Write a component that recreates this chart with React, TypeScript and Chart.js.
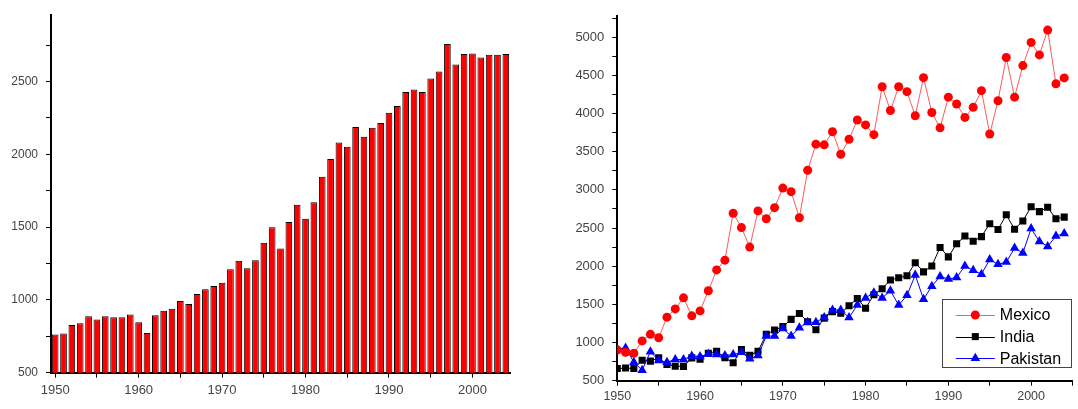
import React, { useEffect, useRef } from 'react';
import { Chart, registerables } from 'chart.js';

Chart.register(...registerables);

const years = [
  1950, 1951, 1952, 1953, 1954, 1955, 1956, 1957, 1958, 1959,
  1960, 1961, 1962, 1963, 1964, 1965, 1966, 1967, 1968, 1969,
  1970, 1971, 1972, 1973, 1974, 1975, 1976, 1977, 1978, 1979,
  1980, 1981, 1982, 1983, 1984, 1985, 1986, 1987, 1988, 1989,
  1990, 1991, 1992, 1993, 1994, 1995, 1996, 1997, 1998, 1999,
  2000, 2001, 2002, 2003, 2004,
];

const barValues = [
  762, 769, 827, 840, 887, 865, 887, 881, 881, 899,
  847, 773, 894, 925, 939, 993, 972, 1040, 1073, 1096,
  1118, 1210, 1268, 1217, 1272, 1393, 1499, 1353, 1535, 1653,
  1557, 1671, 1846, 1967, 2081, 2052, 2188, 2121, 2182, 2215,
  2285, 2332, 2428, 2444, 2428, 2520, 2569, 2757, 2616, 2688,
  2692, 2665, 2683, 2683, 2688,
];

const mexico = [
  902, 872, 859, 1021, 1107, 1063, 1332, 1440, 1585, 1350,
  1414, 1678, 1951, 2079, 2694, 2506, 2250, 2724, 2621, 2767,
  3023, 2976, 2634, 3257, 3599, 3590, 3761, 3467, 3663, 3915,
  3851, 3723, 4350, 4039, 4350, 4286, 3970, 4470, 4013, 3812,
  4214, 4124, 3949, 4081, 4299, 3731, 4167, 4734, 4214, 4628,
  4931, 4768, 5093, 4389, 4466,
];

const india = [
  659, 666, 659, 767, 756, 800, 712, 690, 688, 799,
  780, 859, 885, 800, 735, 908, 833, 885, 1107, 1164,
  1208, 1303, 1380, 1272, 1168, 1320, 1405, 1384, 1482, 1576,
  1448, 1627, 1704, 1819, 1849, 1874, 2045, 1926, 2003, 2246,
  2122, 2293, 2395, 2327, 2387, 2557, 2481, 2673, 2485, 2592,
  2779, 2715, 2771, 2621, 2643,
];

const pakistan = [
  915, 928, 743, 637, 880, 765, 743, 778, 778, 825,
  816, 851, 842, 829, 842, 872, 787, 829, 1085, 1085,
  1184, 1085, 1192, 1265, 1265, 1329, 1426, 1426, 1328, 1490,
  1584, 1653, 1584, 1678, 1490, 1618, 1883, 1567, 1738, 1866,
  1832, 1853, 2003, 1947, 1896, 2088, 2024, 2054, 2237, 2173,
  2493, 2323, 2259, 2395, 2429,
];

const seriesNames = ['Mexico', 'India', 'Pakistan'];
const xTickValues = [1950, 1955, 1960, 1965, 1970, 1975, 1980, 1985, 1990, 1995, 2000, 2005];

const FONT = "'Liberation Sans', Arial, Helvetica, sans-serif";
const LABEL_COLOR = '#444444';

function minorTicks(min: number, max: number, step: number) {
  const out: { value: number }[] = [];
  for (let v = Math.ceil(min / step) * step; v <= max + 1e-9; v += step) out.push({ value: v });
  return out;
}

function drawMarker(ctx: CanvasRenderingContext2D, style: string, x: number, y: number, r: number) {
  ctx.beginPath();
  if (style === 'circle') {
    ctx.arc(x, y, r, 0, Math.PI * 2);
  } else if (style === 'rect') {
    const s = Math.SQRT1_2 * r;
    ctx.rect(x - s, y - s, 2 * s, 2 * s);
  } else {
    ctx.moveTo(x, y - r);
    ctx.lineTo(x + r * Math.sin(Math.PI * 2 / 3), y + r * 0.5);
    ctx.lineTo(x - r * Math.sin(Math.PI * 2 / 3), y + r * 0.5);
    ctx.closePath();
  }
  ctx.fill();
}

const legendPlugin = {
  id: 'boxLegend',
  afterDraw(chart: any) {
    const { ctx, chartArea } = chart;
    const w = 129;
    const h = 68.4;
    const left = chartArea.right - 130.7;
    const top = chartArea.bottom - 81.4;
    ctx.save();
    ctx.fillStyle = '#ffffff';
    ctx.fillRect(left, top, w, h);
    ctx.strokeStyle = '#444444';
    ctx.lineWidth = 1;
    ctx.strokeRect(Math.round(left) + 0.5, Math.round(top) + 0.5, Math.round(w), Math.round(h));
    chart.data.datasets.forEach((ds: any, i: number) => {
      const y = top + 15.7 + i * 21.6;
      ctx.strokeStyle = ds.borderColor;
      ctx.lineWidth = 1;
      ctx.beginPath();
      ctx.moveTo(left + 14, Math.round(y) + 0.5);
      ctx.lineTo(left + 53, Math.round(y) + 0.5);
      ctx.stroke();
      ctx.fillStyle = ds.pointBackgroundColor;
      drawMarker(ctx, ds.pointStyle, left + 33.5, y, ds.pointRadius);
      ctx.fillStyle = '#000000';
      ctx.font = `16px ${FONT}`;
      ctx.textBaseline = 'middle';
      ctx.textAlign = 'left';
      ctx.fillText(ds.label, left + 58, y + 1);
    });
    ctx.restore();
  },
};

export default function App() {
  const leftRef = useRef<HTMLCanvasElement>(null);
  const rightRef = useRef<HTMLCanvasElement>(null);

  useEffect(() => {
    const axisCommon = {
      offset: false,
      grid: { drawOnChartArea: false, drawTicks: true, tickLength: 5, color: '#000000', lineWidth: 1, offset: false },
      border: { display: true, color: '#000000', width: 2 },
    };

    const left = new Chart(leftRef.current!, {
      type: 'bar',
      data: {
        datasets: [
          {
            label: 'Production',
            data: years.map((y, i) => ({ x: y, y: barValues[i] })),
            backgroundColor: '#ff0000',
            borderColor: '#000000',
            borderWidth: 1,
            borderSkipped: 'bottom',
            barPercentage: 0.8,
            categoryPercentage: 1,
          },
        ],
      },
      options: {
        animation: false,
        responsive: false,
        maintainAspectRatio: false,
        layout: { padding: { top: 7, right: 20, left: 0, bottom: 0 } },
        plugins: { legend: { display: false }, tooltip: { enabled: false } },
        scales: {
          x: {
            type: 'linear',
            min: 1949.5,
            max: 2004.5,
            ...axisCommon,
            afterBuildTicks: (s: any) => { s.ticks = xTickValues.filter(v => v <= 2004.5).map(v => ({ value: v })); },
            afterFit: (s: any) => { s.height = 36.3; },
            ticks: {
              autoSkip: false,
              maxRotation: 0,
              padding: 5,
              color: LABEL_COLOR,
              font: { family: FONT, size: 13 },
              callback: (v: any) => (Number(v) % 10 === 0 ? String(v) : ''),
            },
          },
          y: {
            type: 'linear',
            min: 500,
            max: 2955,
            ...axisCommon,
            afterBuildTicks: (s: any) => { s.ticks = minorTicks(500, 2955, 250); },
            afterFit: (s: any) => { s.width = 51; },
            ticks: {
              autoSkip: false,
              padding: 8,
              color: LABEL_COLOR,
              font: { family: FONT, size: 12 },
              callback: (v: any) => (Number(v) % 500 === 0 ? String(v) : ''),
            },
          },
        },
      },
    });

    const right = new Chart(rightRef.current!, {
      type: 'line',
      data: {
        datasets: [
          {
            label: seriesNames[0],
            data: years.map((y, i) => ({ x: y, y: mexico[i] })),
            borderColor: '#ff5a5a',
            borderWidth: 1,
            pointStyle: 'circle',
            pointRadius: 4.5,
            pointBackgroundColor: '#ff0000',
            pointBorderColor: '#ff0000',
            pointBorderWidth: 0,
            order: 0,
          },
          {
            label: seriesNames[1],
            data: years.map((y, i) => ({ x: y, y: india[i] })),
            borderColor: '#000000',
            borderWidth: 1,
            pointStyle: 'rect',
            pointRadius: 5,
            pointBackgroundColor: '#000000',
            pointBorderColor: '#000000',
            pointBorderWidth: 0,
            order: 2,
          },
          {
            label: seriesNames[2],
            data: years.map((y, i) => ({ x: y, y: pakistan[i] })),
            borderColor: '#0000ff',
            borderWidth: 1,
            pointStyle: 'triangle',
            pointRadius: 5.5,
            pointBackgroundColor: '#0000ff',
            pointBorderColor: '#0000ff',
            pointBorderWidth: 0,
            order: 1,
          },
        ],
      },
      options: {
        animation: false,
        responsive: false,
        maintainAspectRatio: false,
        layout: { padding: { top: 7.4, right: 1.3, left: 0, bottom: 0 } },
        plugins: { legend: { display: false }, tooltip: { enabled: false } },
        scales: {
          x: {
            type: 'linear',
            min: 1950,
            max: 2005,
            ...axisCommon,
            afterBuildTicks: (s: any) => { s.ticks = xTickValues.map(v => ({ value: v })); },
            afterFit: (s: any) => { s.height = 28.3; },
            ticks: {
              autoSkip: false,
              maxRotation: 0,
              padding: 3,
              color: LABEL_COLOR,
              font: { family: FONT, size: 12.5 },
              callback: (v: any) => (Number(v) % 10 === 0 ? String(v) : ''),
            },
          },
          y: {
            type: 'linear',
            min: 500,
            max: 5280,
            ...axisCommon,
            afterBuildTicks: (s: any) => { s.ticks = minorTicks(500, 5280, 250); },
            afterFit: (s: any) => { s.width = 87.3; },
            ticks: {
              autoSkip: false,
              padding: 8,
              color: LABEL_COLOR,
              font: { family: FONT, size: 13 },
              callback: (v: any) => (Number(v) % 500 === 0 ? String(v) : ''),
            },
          },
        },
      },
      plugins: [legendPlugin],
    });

    return () => {
      left.destroy();
      right.destroy();
    };
  }, []);

  return (
    <div style={{ position: 'fixed', left: 0, top: 0, width: 1078, height: 409, background: '#ffffff' }}>
      <canvas ref={leftRef} width={530} height={409} style={{ position: 'absolute', left: 0, top: 0, width: 530, height: 409 }} />
      <canvas ref={rightRef} width={548} height={409} style={{ position: 'absolute', left: 530, top: 0, width: 548, height: 409 }} />
    </div>
  );
}
